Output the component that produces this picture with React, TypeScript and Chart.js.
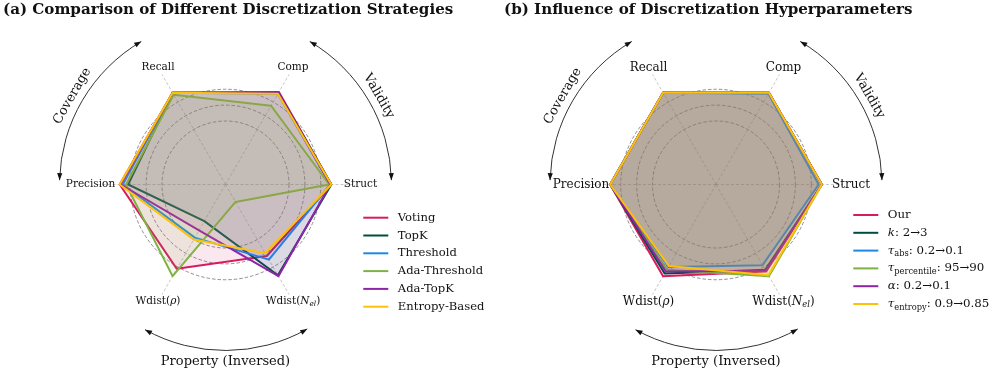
import { useEffect, useRef } from "react";
import { Chart, registerables } from "chart.js";

Chart.register(...registerables);

// ---------- data ----------
const AXES = ["Recall", "Comp", "Struct", "Wdist(*N*_*{el})", "Wdist(*ρ*)", "Precision"];

const STRATEGIES = ["Voting", "TopK", "Threshold", "Ada-Threshold", "Ada-TopK", "Entropy-Based"];
const voting = [1.0, 1.01, 1.0, 0.78, 0.92, 1.0];
const topK = [1.0, 1.0, 1.0, 0.99, 0.4, 0.92];
const threshold = [1.0, 0.99, 0.99, 0.82, 0.58, 0.97];
const adaThreshold = [0.98, 0.86, 0.98, 0.19, 1.0, 0.94];
const adaTopK = [1.0, 1.0, 0.99, 1.0, 0.5, 0.99];
const entropyBased = [1.0, 0.99, 1.0, 0.75, 0.6, 1.0];
const SERIES_A = [voting, topK, threshold, adaThreshold, adaTopK, entropyBased];

const SETTINGS = [
  "Our",
  "*k*: 2→3",
  "*τ*_{abs}: 0.2→0.1",
  "*τ*_{percentile}: 95→90",
  "*α*: 0.2→0.1",
  "*τ*_{entropy}: 0.9→0.85",
];
const our = [1.0, 1.0, 1.0, 0.95, 1.0, 1.0];
const kChange = [1.0, 1.0, 1.0, 0.93, 0.97, 1.0];
const tauAbs = [1.0, 0.99, 0.97, 0.88, 0.9, 1.0];
const tauPercentile = [1.0, 1.0, 1.0, 1.0, 0.93, 1.0];
const alphaChange = [1.0, 1.0, 1.0, 0.94, 0.95, 1.0];
const tauEntropy = [1.0, 1.0, 1.0, 0.99, 0.89, 1.0];
const SERIES_B = [our, kChange, tauAbs, tauPercentile, alphaChange, tauEntropy];

const COLORS = ["#D81B60", "#004D40", "#1E88E5", "#7CB342", "#8E24AA", "#FFC107"];
const GRID_LEVELS = [0.6, 0.75, 0.9];
const R_MAX = 1.2;

const ARC_NAMES = ["Validity", "Coverage", "Property (Inversed)"];
const ARC_SPANS = [
  [1.5, 59.5],
  [120.5, 178.5],
  [241, 299.5],
];
const ARC_TEXT_ANGLES = [30, 150, 270];

// ---------- helpers ----------
const FONT = '"DejaVu Serif", "Liberation Serif", serif';

type Seg = { t: string; it: boolean; sub: boolean };
function parseRich(s: string): Seg[] {
  return s
    .split(/(_\*\{[^}]*\}|_\{[^}]*\}|\*[^*]+\*)/g)
    .filter((p) => p.length > 0)
    .map((p) => {
      if (p.startsWith("_*{")) return { t: p.slice(3, -1), it: true, sub: true };
      if (p.startsWith("_{")) return { t: p.slice(2, -1), it: false, sub: true };
      if (p.length > 2 && p.startsWith("*") && p.endsWith("*")) return { t: p.slice(1, -1), it: true, sub: false };
      return { t: p, it: false, sub: false };
    });
}

function drawRich(ctx: CanvasRenderingContext2D, str: string, x: number, y: number, size: number, align: "left" | "center") {
  const segs = parseRich(str);
  const font = (sg: Seg) => `${sg.it ? "italic " : ""}${sg.sub ? size * 0.7 : size}px ${FONT}`;
  const widths = segs.map((sg) => {
    ctx.font = font(sg);
    return ctx.measureText(sg.t).width;
  });
  const total = widths.reduce((a, b) => a + b, 0);
  let cx = align === "center" ? x - total / 2 : x;
  ctx.textAlign = "left";
  ctx.textBaseline = "middle";
  segs.forEach((sg, i) => {
    ctx.font = font(sg);
    ctx.fillText(sg.t, cx, y + (sg.sub ? size * 0.3 : 0));
    cx += widths[i];
  });
}

function arrowHead(ctx: CanvasRenderingContext2D, x: number, y: number, dx: number, dy: number) {
  const L = 7, W = 2.6;
  const bx = x - dx * L, by = y - dy * L;
  ctx.beginPath();
  ctx.moveTo(x, y);
  ctx.lineTo(bx - dy * W, by + dx * W);
  ctx.lineTo(bx + dy * W, by - dx * W);
  ctx.closePath();
  ctx.fill();
}

const decoPlugin = {
  id: "deco",
  afterDraw(chart: any, _args: any, opts: any) {
    const ctx: CanvasRenderingContext2D = chart.ctx;
    const s = chart.scales.r;
    const cx = s.xCenter, cy = s.yCenter;
    ctx.save();
    ctx.fillStyle = "#111";
    // title
    ctx.font = `bold ${opts.titleSize}px ${FONT}`;
    ctx.textAlign = "left";
    ctx.textBaseline = "alphabetic";
    ctx.fillText(opts.title, opts.titleX, opts.titleY);
    // axis labels
    chart.data.labels.forEach((lab: string, i: number) => {
      const p = s.getPointPosition(i, opts.labelDist);
      drawRich(ctx, lab, p.x, p.y, opts.labelSize, "center");
    });
    // arcs with arrows
    const rad = opts.arcRadius;
    ctx.strokeStyle = "#333";
    ctx.fillStyle = "#111";
    ctx.lineWidth = 1;
    ARC_SPANS.forEach(([a0, a1], k) => {
      const t0 = (a0 * Math.PI) / 180, t1 = (a1 * Math.PI) / 180;
      ctx.beginPath();
      ctx.arc(cx, cy, rad, -t0, -t1, true);
      ctx.stroke();
      arrowHead(ctx, cx + rad * Math.cos(t1), cy - rad * Math.sin(t1), -Math.sin(t1), -Math.cos(t1));
      arrowHead(ctx, cx + rad * Math.cos(t0), cy - rad * Math.sin(t0), Math.sin(t0), Math.cos(t0));
      const ta = ARC_TEXT_ANGLES[k];
      const tr = (ta * Math.PI) / 180;
      const tx = cx + opts.arcTextRadius * Math.cos(tr);
      const ty = cy - opts.arcTextRadius * Math.sin(tr);
      ctx.save();
      ctx.translate(tx, ty);
      const rot = ta > 180 ? 0 : ((90 - ta) * Math.PI) / 180;
      ctx.rotate(rot);
      ctx.font = `${opts.arcTextSize}px ${FONT}`;
      ctx.textAlign = "center";
      ctx.textBaseline = "middle";
      ctx.fillText(ARC_NAMES[k], 0, 0);
      ctx.restore();
    });
    // legend
    chart.data.datasets.forEach((ds: any, i: number) => {
      const y = opts.legendY + i * opts.legendStep;
      ctx.strokeStyle = ds.borderColor;
      ctx.lineWidth = 2;
      ctx.beginPath();
      ctx.moveTo(opts.legendX, y);
      ctx.lineTo(opts.legendX + 25, y);
      ctx.stroke();
      ctx.fillStyle = "#111";
      drawRich(ctx, ds.label, opts.legendX + 34.5, y, opts.legendSize, "left");
    });
    ctx.restore();
  },
};

function hexA(hex: string, a: number) {
  const n = parseInt(hex.slice(1), 16);
  return `rgba(${(n >> 16) & 255},${(n >> 8) & 255},${n & 255},${a})`;
}

function makeChart(canvas: HTMLCanvasElement, names: string[], series: number[][], fillAlpha: number, deco: any) {
  return new Chart(canvas, {
    type: "radar",
    data: {
      labels: AXES,
      datasets: names.map((name, i) => ({
        label: name,
        data: series[i],
        borderColor: COLORS[i],
        backgroundColor: hexA(COLORS[i], fillAlpha),
        borderWidth: 2,
        pointRadius: 0,
        fill: true,
        tension: 0,
        order: names.length - i,
        borderJoinStyle: "round" as const,
      })),
    },
    options: {
      responsive: false,
      animation: false,
      events: [],
      layout: { padding: 0 },
      plugins: {
        legend: { display: false },
        tooltip: { enabled: false },
        deco,
      } as any,
      scales: {
        r: {
          min: 0,
          max: R_MAX,
          startAngle: -30,
          ticks: { display: false },
          pointLabels: { display: false },
          grid: { circular: true, color: "rgba(100,100,100,0.8)", lineWidth: 0.9 },
          border: { dash: [3.5, 2] },
          angleLines: { display: true, color: "rgba(150,150,150,0.6)", lineWidth: 0.9, borderDash: [3, 2] },
          afterBuildTicks: (scale: any) => {
            scale.ticks = [0, ...GRID_LEVELS].map((v) => ({ value: v }));
          },
          afterFit: (scale: any) => {
            scale.xCenter = deco.cx;
            scale.yCenter = deco.cy;
            scale.drawingArea = deco.radius;
          },
        } as any,
      },
    },
    plugins: [decoPlugin as any],
  });
}

export default function App() {
  const refA = useRef<HTMLCanvasElement>(null);
  const refB = useRef<HTMLCanvasElement>(null);
  useEffect(() => {
    document.body.style.margin = "0";
    const common = {
      radius: 127,
      labelDist: 135,
      arcRadius: 166,
      arcTextRadius: 177,
      arcTextSize: 13,
      legendStep: 17.8,
      titleSize: 15.1,
      titleY: 14,
    };
    const a = makeChart(refA.current!, STRATEGIES, SERIES_A, 0.1, {
      ...common,
      cx: 225.5,
      cy: 184.5,
      title: "(a) Comparison of Different Discretization Strategies",
      titleX: 3,
      labelSize: 10.5,
      legendX: 363.3,
      legendY: 217.7,
      legendSize: 11.6,
    });
    const b = makeChart(refB.current!, SETTINGS, SERIES_B, 0.15, {
      ...common,
      cx: 716,
      cy: 184.5,
      title: "(b) Influence of Discretization Hyperparameters",
      titleX: 504,
      labelSize: 12,
      legendX: 853.3,
      legendY: 215,
      legendSize: 11.8,
    });
    return () => {
      a.destroy();
      b.destroy();
    };
  }, []);
  return (
    <div style={{ position: "relative", width: 997, height: 371, background: "#fff" }}>
      <canvas ref={refA} width={997} height={371} style={{ position: "absolute", left: 0, top: 0 }} />
      <canvas ref={refB} width={997} height={371} style={{ position: "absolute", left: 0, top: 0 }} />
    </div>
  );
}
